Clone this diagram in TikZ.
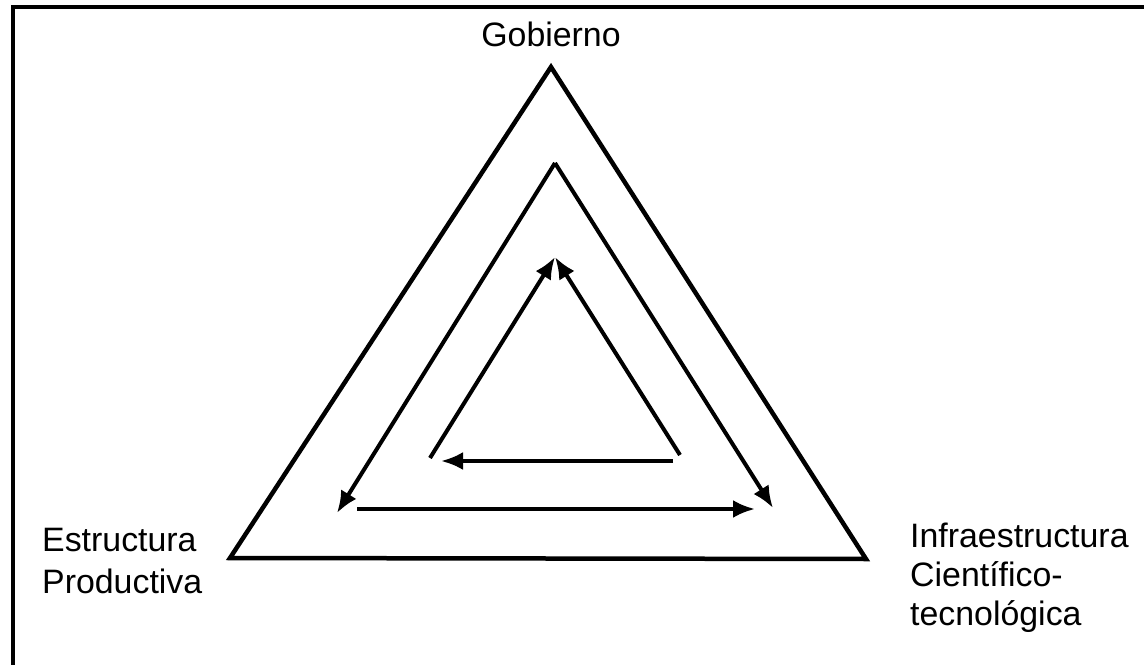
\documentclass[tikz,border=0pt]{standalone}
\usepackage{fontspec}
\setmainfont{Liberation Sans}
\usetikzlibrary{arrows.meta}
\begin{document}
\begin{tikzpicture}[x=1bp,y=-1bp,
  tri/.style={line width=4.5bp,line join=miter},
  arr/.style={line width=4bp,-{Latex[length=22bp,width=18bp]}},
  lbl/.style={font=\fontsize{34}{42}\selectfont,inner sep=0pt,align=left},
  frame/.style={line width=3.5bp}]
\useasboundingbox (0,0) rectangle (1144,665);
% frame (top and left only)
\coordinate (fTL) at (13,7);
\coordinate (fTR) at (1144,7);
\coordinate (fBL) at (13,665);
\draw[frame] (fTR) -- (fTL) -- (fBL);
% outer triangle
\coordinate (oA) at (551,67);
\coordinate (oL) at (230,558);
\coordinate (oR) at (866,559);
\draw[tri] (oA) -- (oL) -- (oR) -- cycle;
% middle triangle
\coordinate (mA) at (555,163);
\coordinate (mL) at (337,513);
\coordinate (mR) at (773,508);
\coordinate (mB1) at (357,509);
\coordinate (mB2) at (755,509);
\draw[arr] (mA) -- (mL);
\draw[arr] (mA) -- (mR);
\draw[arr] (mB1) -- (mB2);
% inner triangle
\coordinate (iA) at (555,257);
\coordinate (iL) at (430,458);
\coordinate (iR) at (680,455);
\coordinate (iB1) at (673,461);
\coordinate (iB2) at (441,461);
\draw[arr] (iL) -- (iA);
\draw[arr] (iR) -- (iA);
\draw[arr] (iB1) -- (iB2);
% labels
\node[lbl,anchor=base] (gob) at (551,47) {Gobierno};
\node[lbl,anchor=base west] (est) at (42,593) {Estructura\\Productiva};
\node[lbl,anchor=base west,font=\fontsize{34}{39}\selectfont] (inf) at (910,625) {Infraestructura\\Científico-\\tecnológica};
\end{tikzpicture}
\end{document}
